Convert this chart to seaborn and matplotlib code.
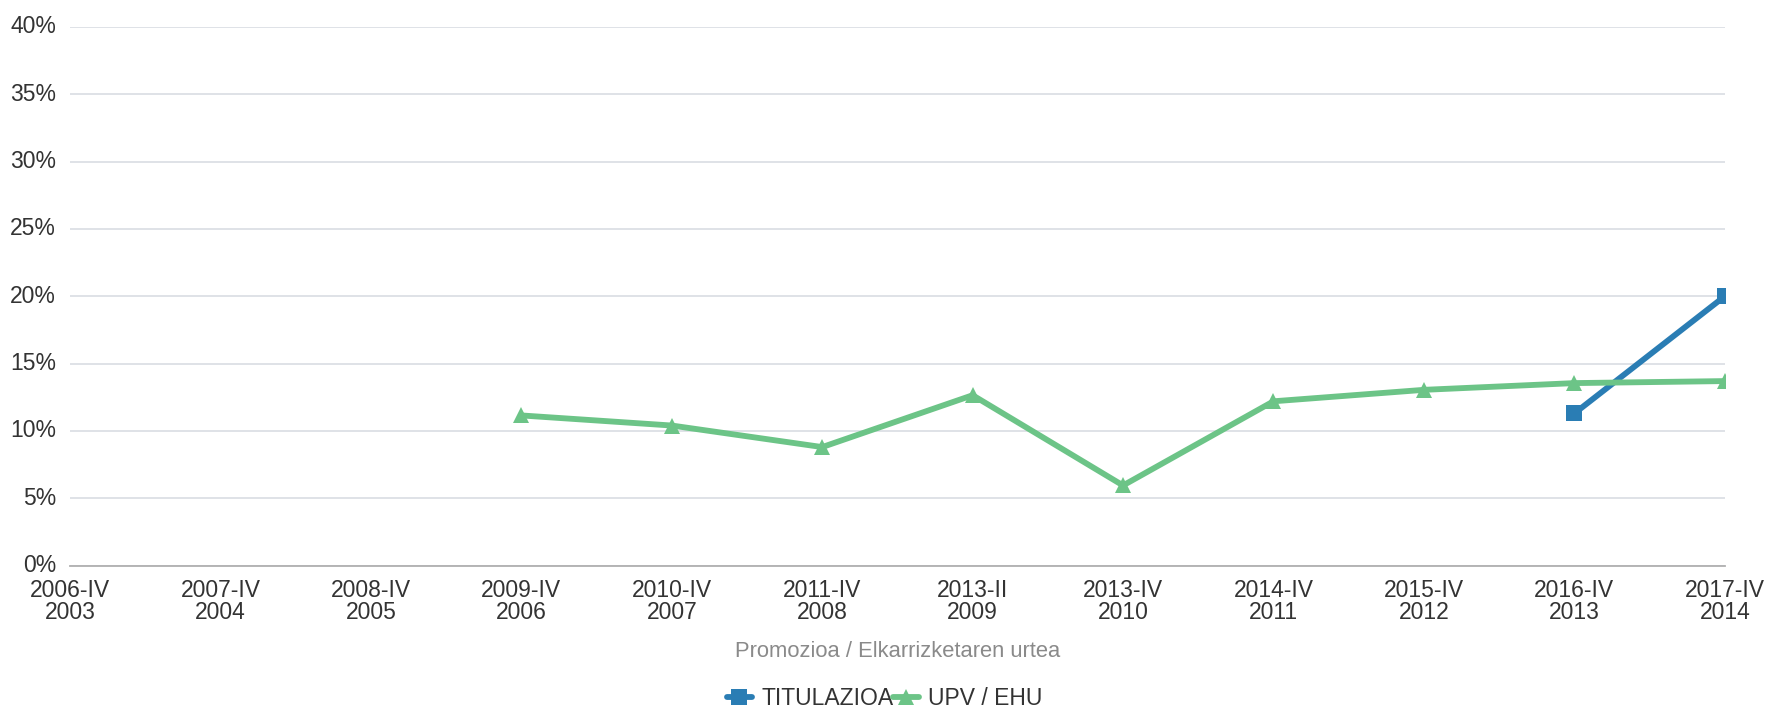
import numpy as np
import pandas as pd
import matplotlib
matplotlib.use("Agg")
import matplotlib.pyplot as plt
import seaborn as sns
from matplotlib.lines import Line2D

categories = ["2006-IV\n2003", "2007-IV\n2004", "2008-IV\n2005", "2009-IV\n2006",
              "2010-IV\n2007", "2011-IV\n2008", "2013-II\n2009", "2013-IV\n2010",
              "2014-IV\n2011", "2015-IV\n2012", "2016-IV\n2013", "2017-IV\n2014"]
titulazioa = [np.nan]*10 + [11.3, 20.0]
upv_ehu = [np.nan, np.nan, np.nan, 11.15, 10.4, 8.8, 12.65, 5.95, 12.2, 13.05, 13.55, 13.7]
series_names = ["TITULAZIOA", "UPV / EHU"]
colors = {"TITULAZIOA": "#2a7db4", "UPV / EHU": "#6cc487"}
markers = {"TITULAZIOA": "s", "UPV / EHU": "^"}
yticks = [0, 5, 10, 15, 20, 25, 30, 35, 40]

sns.set_theme(style="white")
plt.rcParams['font.family'] = ['Liberation Sans', 'DejaVu Sans']

x = np.arange(len(categories))
df = pd.concat([
    pd.DataFrame({"x": x, "y": titulazioa, "serie": series_names[0]}),
    pd.DataFrame({"x": x, "y": upv_ehu, "serie": series_names[1]}),
]).dropna()

fig, ax = plt.subplots(figsize=(17.69, 7.07), dpi=100)
fig.subplots_adjust(left=0.0396, right=0.975, top=0.962, bottom=0.2)

FS = 16.5
for name in series_names:
    sub = df[df.serie == name]
    sns.lineplot(data=sub, x="x", y="y", ax=ax, color=colors[name], marker=markers[name],
                 markersize=11 if name == "TITULAZIOA" else 11.5, markeredgewidth=0,
                 linewidth=4.2, legend=False, zorder=3 if name == "TITULAZIOA" else 4)

ax.set_xlim(0, len(categories) - 1)
ax.set_ylim(0, 40)
ax.set_yticks(yticks)
ax.set_yticklabels([f"{v}%" for v in yticks])
ax.set_xticks(x)
ax.set_xticklabels(categories, linespacing=0.92)
ax.tick_params(axis="both", length=0, labelsize=FS, colors="#333333")
ax.tick_params(axis="x", pad=10)
ax.tick_params(axis="y", pad=10)
for lab in ax.get_yticklabels():
    lab.set_verticalalignment("center")

ax.grid(axis="y", color="#d6dae0", linewidth=1.1)
ax.grid(axis="x", visible=False)
for s in ["top", "right", "left"]:
    ax.spines[s].set_visible(False)
ax.spines["bottom"].set_color("#b0b0b0")
ax.spines["bottom"].set_linewidth(1.3)
ax.set_axisbelow(True)

ax.set_xlabel("Promozioa / Elkarrizketaren urtea", fontsize=15.8, color="#8a8a8a", labelpad=12)
ax.set_ylabel("")

handles = [Line2D([0], [0], color=colors[n], marker=markers[n], markersize=11,
                  markeredgewidth=0, linewidth=4.2) for n in series_names]
fig.legend(handles, series_names, loc="lower center", bbox_to_anchor=(0.5, -0.033), ncol=2,
           frameon=False, fontsize=FS, handlelength=1.1, handletextpad=0.4,
           columnspacing=0.0, labelcolor="#333333")

fig.savefig("out.png", dpi=100)
